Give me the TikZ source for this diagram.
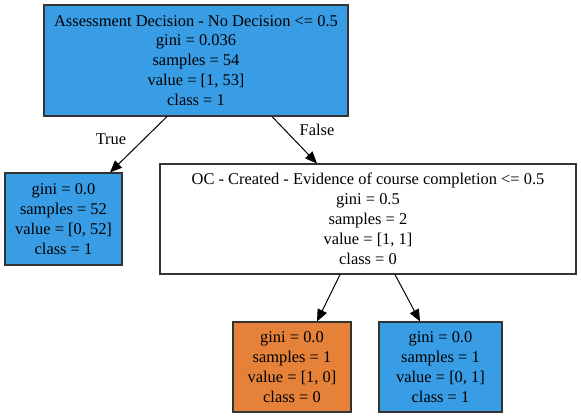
\documentclass[tikz,border=0pt]{standalone}
\usepackage{fontspec}
\setmainfont{Liberation Serif}
\usetikzlibrary{arrows.meta}
\definecolor{leafblue}{HTML}{399DE5}
\definecolor{leaforange}{HTML}{E58139}

\begin{document}
\begin{tikzpicture}[x=1bp,y=-1bp,
		treenode/.style={draw=black!80, line width=1.1bp, align=center, inner sep=0pt,
			font=\fontsize{16.5}{20}\selectfont},
		edgelabel/.style={font=\fontsize{16.5}{20}\selectfont},
		>={Triangle[length=12bp,width=10bp]}]
	\useasboundingbox (0,0) rectangle (581,419);
	% split nodes
	\node[treenode, fill=leafblue, minimum width=304bp, minimum height=111bp] (root) at (196,60.5)
	{Assessment Decision - No Decision <= 0.5\\ gini = 0.036\\ samples = 54\\ value = [1, 53]\\ class = 1};
	\node[treenode, fill=white, minimum width=416bp, minimum height=110bp] (oc) at (368,219)
	{OC - Created - Evidence of course completion <= 0.5\\ gini = 0.5\\ samples = 2\\ value = [1, 1]\\ class = 0};
	% leaves
	\node[treenode, fill=leafblue, minimum width=117bp, minimum height=92bp] (leafTrue) at (63.5,219)
	{gini = 0.0\\ samples = 52\\ value = [0, 52]\\ class = 1};
	\node[treenode, fill=leaforange, minimum width=118bp, minimum height=90bp] (leafZero) at (292,367)
	{gini = 0.0\\ samples = 1\\ value = [1, 0]\\ class = 0};
	\node[treenode, fill=leafblue, minimum width=123bp, minimum height=90bp] (leafOne) at (440.5,367)
	{gini = 0.0\\ samples = 1\\ value = [0, 1]\\ class = 1};
	\path[->, line width=1bp]
	([xshift=-29bp]root.south) edge ([xshift=46.5bp]leafTrue.north)
	([xshift=76bp]root.south) edge ([xshift=-51bp]oc.north)
	([xshift=-28bp]oc.south) edge ([xshift=25bp]leafZero.north)
	([xshift=27bp]oc.south) edge ([xshift=-20.5bp]leafOne.north);
	\node[edgelabel] (lblTrue) at (111,139) {True};
	\node[edgelabel] (lblFalse) at (317,130) {False};
\end{tikzpicture}
\end{document}
